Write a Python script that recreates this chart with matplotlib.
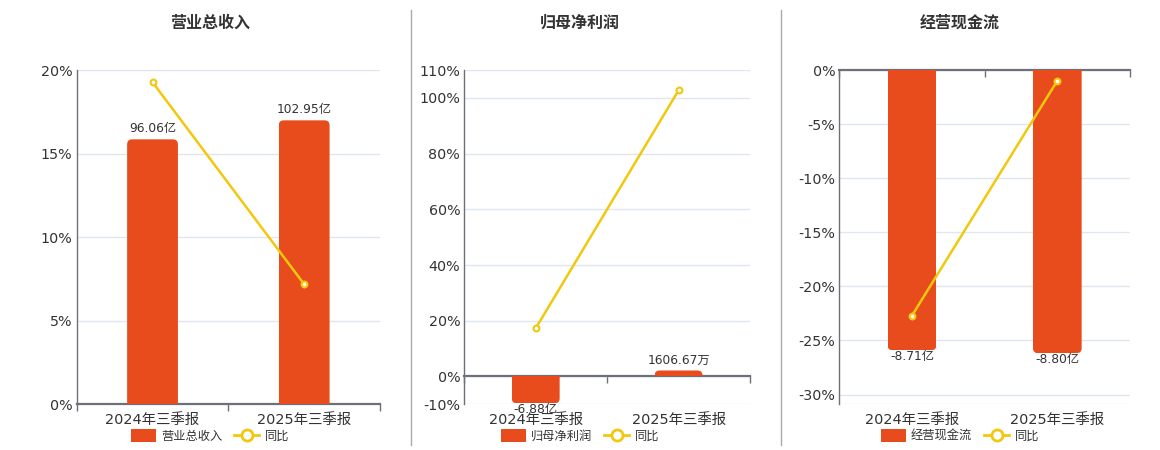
import matplotlib
matplotlib.use("Agg")
import matplotlib.pyplot as plt
from matplotlib.patches import FancyBboxPatch, Rectangle, Patch
from matplotlib.lines import Line2D
import matplotlib.ticker as mticker

plt.rcParams['font.family'] = ['DejaVu Sans', 'Noto Sans CJK SC']

categories = ['2024年三季报', '2025年三季报']

# 营业总收入 (亿) and 同比 (%)
revenue = [96.06, 102.95]
revenue_yoy = [19.27, 7.18]
revenue_labels = ['96.06亿', '102.95亿']

# 归母净利润 (亿) and 同比 (%)
profit = [-6.88, 0.160667]
profit_yoy = [17.3, 102.7]
profit_labels = ['-6.88亿', '1606.67万']

# 经营现金流 (亿) and 同比 (%)
cashflow = [-8.71, -8.80]
cashflow_yoy = [-22.7, -0.99]
cashflow_labels = ['-8.71亿', '-8.80亿']

BAR = '#E84C1C'
LINE = '#F2C80F'
AXIS = '#6E7079'
GRID = '#E0E6F1'
TEXT = '#333333'

W, H = 1160, 450
fig = plt.figure(figsize=(W / 100, H / 100), dpi=100)

panels = [
    dict(title='营业总收入', name='营业总收入', bars=revenue, yoy=revenue_yoy, labels=revenue_labels,
         left=76.7, right=380, center=210, pct=(0, 20), ticks=[0, 5, 10, 15, 20], barlim=(0, 121.2)),
    dict(title='归母净利润', name='归母净利润', bars=profit, yoy=profit_yoy, labels=profit_labels,
         left=464.3, right=750, center=580, pct=(-10, 110), ticks=[-10, 0, 20, 40, 60, 80, 100, 110],
         barlim=(-7.13, 78.6)),
    dict(title='经营现金流', name='经营现金流', bars=cashflow, yoy=cashflow_yoy, labels=cashflow_labels,
         left=839.3, right=1130, center=960, pct=(-30.9, 0), ticks=[0, -5, -10, -15, -20, -25, -30],
         barlim=(-10.39, 0)),
]

top_px, bot_px = 70, 404.3


def round_bars(ax, bars, radius_px=5, min_px=6):
    # echarts-like bars: rounded outer corners, minimum visible height
    pos = ax.get_position()
    w_px = pos.width * fig.bbox.width
    h_px = pos.height * fig.bbox.height
    x0, x1 = ax.get_xlim()
    y0, y1 = ax.get_ylim()
    xpp = (x1 - x0) / w_px
    ypp = (y1 - y0) / h_px
    tops = []
    for b in bars:
        x, w, base, h = b.get_x(), b.get_width(), b.get_y(), b.get_height()
        sign = 1 if h >= 0 else -1
        h = sign * max(abs(h), min_px * ypp)
        top = base + h
        ext = base - sign * radius_px * ypp
        lo, hi = min(ext, top), max(ext, top)
        p = FancyBboxPatch((x, lo), w, hi - lo,
                           boxstyle=f"round,pad=0,rounding_size={radius_px * xpp}",
                           mutation_aspect=ypp / xpp, fc=b.get_facecolor(), ec='none', zorder=2)
        ax.add_patch(p)
        p.set_clip_path(Rectangle((x, min(base, top)), w, abs(h), transform=ax.transData))
        b.set_visible(False)
        tops.append(top)
    return tops


for pn in panels:
    ax = fig.add_axes([pn['left'] / W, 1 - bot_px / H, (pn['right'] - pn['left']) / W, (bot_px - top_px) / H])
    ax2 = ax.twinx()
    xs = list(range(len(categories)))

    ax.set_xlim(-0.5, 1.5)
    ax.set_ylim(*pn['pct'])
    ax.set_yticks(pn['ticks'])
    ax.yaxis.set_major_formatter(mticker.FuncFormatter(lambda v, p: f'{v:.0f}%'))
    ax.tick_params(axis='y', length=0, labelsize=10.3, labelcolor=TEXT, pad=3)
    ax.grid(axis='y', color=GRID, lw=1)
    ax.set_axisbelow(True)
    lo = pn['pct'][0]
    if lo not in pn['ticks']:
        ax.axhline(lo, color=GRID, lw=1)
    for s in ['top', 'right']:
        ax.spines[s].set_visible(False)
    ax.spines['left'].set_color(AXIS)
    ax.spines['left'].set_linewidth(1)
    ax.spines['bottom'].set_position(('data', 0))
    ax.spines['bottom'].set_color(AXIS)
    ax.spines['bottom'].set_linewidth(1.6)
    ax.spines['bottom'].set_zorder(5)
    ax.set_xticks([-0.5, 0.5, 1.5])
    ax.set_xticklabels([])
    ax.tick_params(axis='x', direction='out', length=5, width=1, color=AXIS)
    for i, c in enumerate(categories):
        ax.annotate(c, xy=(i, 0), xycoords=('data', 'axes fraction'), xytext=(0, -11.5),
                    textcoords='offset points', ha='center', va='center', fontsize=10.4, color=TEXT)

    ax2.set_xlim(-0.5, 1.5)
    ax2.set_ylim(*pn['barlim'])
    ax2.set_yticks([])
    for s in ax2.spines.values():
        s.set_visible(False)
    bars = ax2.bar(xs, pn['bars'], width=0.335, color=BAR, zorder=2)
    tops = round_bars(ax2, bars)
    for i, (t, lab) in enumerate(zip(tops, pn['labels'])):
        off = 7.5 if t >= 0 else -4.5
        ax2.annotate(lab, xy=(i, t), xytext=(0, off), textcoords='offset points',
                     ha='center', va='center', fontsize=8.8, color=TEXT, zorder=4)
    ax2.plot(xs, pn['yoy'], transform=ax.transData, color=LINE, lw=1.8, marker='o', ms=4.2,
             mfc='white', mec=LINE, mew=1.5, zorder=3)
    ax2.set_ylim(*pn['barlim'])

    fig.text(pn['center'] / W, 1 - 23 / H, pn['title'], ha='center', va='center',
             fontsize=11.5, fontweight='bold', color=TEXT)
    handles = [Patch(fc=BAR, ec='none'),
               Line2D([], [], color=LINE, lw=2, marker='o', ms=8, mfc='white', mec=LINE, mew=2)]
    fig.legend(handles, [pn['name'], '同比'], loc='center', bbox_to_anchor=(pn['center'] / W, 1 - 436 / H),
               ncol=2, frameon=False, fontsize=8.8, handlelength=2.0, handleheight=1.15,
               columnspacing=1.0, handletextpad=0.45, labelcolor=TEXT)

for x in (411, 781):
    fig.add_artist(Line2D([x / W, x / W], [1 - 10 / H, 1 - 445 / H], color='#AAAAAA', lw=1))

fig.savefig('out.png', dpi=100)
